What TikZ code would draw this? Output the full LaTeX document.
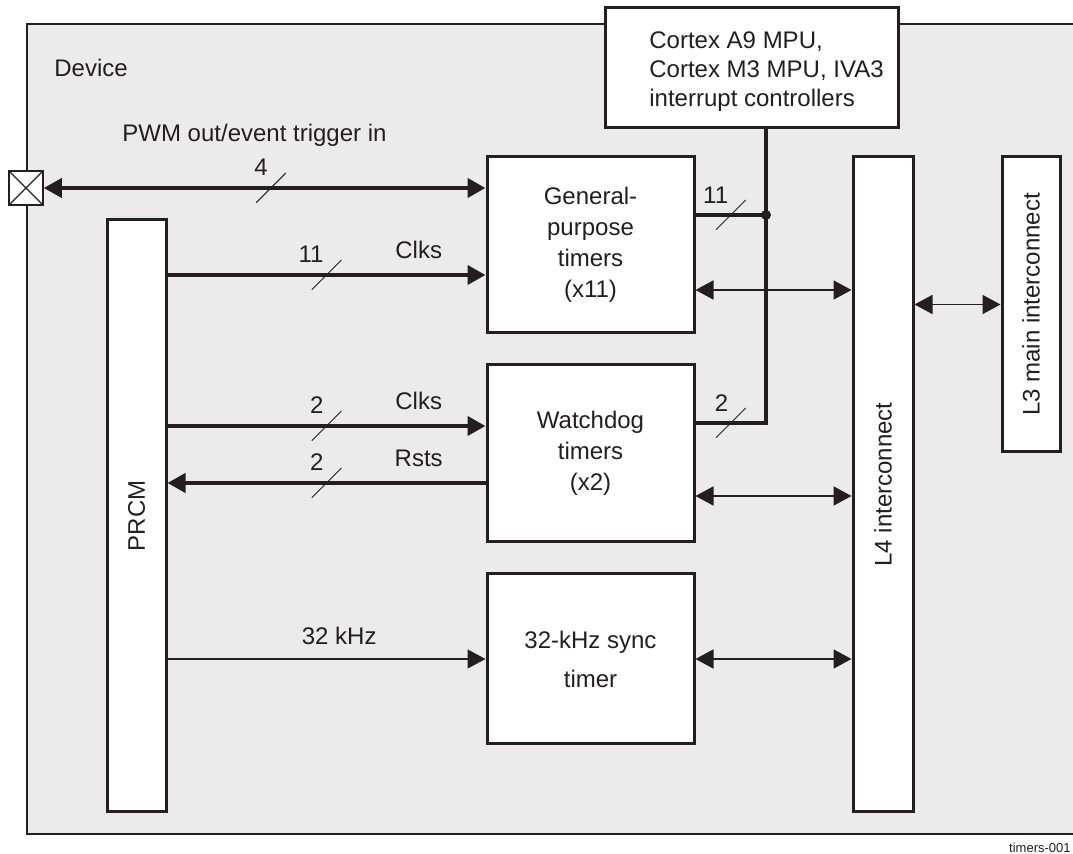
\documentclass[tikz,border=0pt]{standalone}
\usepackage{fontspec}
\setmainfont{Liberation Sans}
\usetikzlibrary{arrows.meta, positioning, calc}

\definecolor{devfill}{HTML}{EBEBEB}
\definecolor{inkdark}{HTML}{231F20}

\begin{document}
\begin{tikzpicture}[
    x=0.5pt, y=-0.5pt,
    font=\fontsize{12}{15.5}\selectfont,
    text=inkdark,
    >={Triangle[length=9pt, width=9.5pt]},
    blk/.style={rectangle, draw=inkdark, line width=1.5pt, fill=white, align=center, inner sep=0pt, minimum width=103.5pt},
    bar/.style={rectangle, draw=inkdark, line width=1.5pt, fill=white, inner sep=0pt, minimum width=30pt},
    pinbox/.style={rectangle, draw=inkdark, line width=0.8pt, fill=white, minimum size=17pt, inner sep=0pt,
        path picture={\draw[-, line width=0.6pt] (path picture bounding box.south west) -- (path picture bounding box.north east)
                                      (path picture bounding box.north west) -- (path picture bounding box.south east);}},
    bus/.style={draw=inkdark, line width=2pt},
    wire/.style={draw=inkdark, line width=0.9pt},
    fine/.style={draw=inkdark, line width=0.6pt},
    irqline/.style={draw=inkdark, line width=1.6pt},
    slashmark/.style={minimum size=15pt, inner sep=0pt,
        path picture={\draw[-, line width=0.5pt] (path picture bounding box.south west) -- (path picture bounding box.north east);}},
    num/.style={anchor=south east, inner sep=0.5pt, yshift=-4pt},
    lbl/.style={inner sep=1pt}
]
\useasboundingbox (0,0) rectangle (1073,854);

% Device
\draw[line width=1.2pt, draw=inkdark, fill=devfill] (27,24) rectangle (1120,834);
\node[anchor=west, inner sep=0pt] (devlbl) at (54,68) {Device};
\node[pinbox] (pin) at (26,188) {};

% Blocks
\node[blk, minimum width=146.5pt, minimum height=60pt] (intc) at (751.5,68) {};
\node[anchor=west, align=left, inner sep=0pt, font=\fontsize{12}{14.5}\selectfont] (intclbl) at (649,72)
    {Cortex A9 MPU,\\Cortex M3 MPU, IVA3\\interrupt controllers};
\node[blk, minimum height=88pt] (gpt) at (590.5,245) {General-\\purpose\\timers\\(x11)};
\node[blk, minimum height=88.5pt, below=14.5pt of gpt] (wdt) {Watchdog\\timers\\(x2)};
\node[blk, minimum height=85pt, below=14.5pt of wdt] (synct) {32-kHz sync\\[4pt]timer};
\node[bar, minimum width=29.5pt, minimum height=296pt] (prcm) at (136.5,516) {\rotatebox{90}{PRCM}};
\node[bar, minimum height=327.5pt] (l4) at (883,484.5) {\rotatebox{90}{L4 interconnect}};
\node[bar, minimum width=29pt, minimum height=147.5pt] (l3) at (1031,304.5) {\rotatebox{90}{L3 main interconnect}};

% Anchor points on the block sides
\coordinate (gclk) at ([yshift=-15pt]gpt.west);
\coordinate (wclk) at ([yshift=13.75pt]wdt.west);
\coordinate (wrst) at ([yshift=-14.75pt]wdt.west);
\coordinate (gbus) at ([yshift=-22.5pt]gpt.east);
\coordinate (wbus) at ([yshift=-21.25pt]wdt.east);
\coordinate (gint) at ([yshift=15pt]gpt.east);
\coordinate (wint) at ([yshift=15.25pt]wdt.east);
\coordinate (irq) at ([xshift=7.25pt]intc.south);

% PRCM side
\draw[bus, <->] (pin.east) -- node[slashmark, pos=.514, label={[num]north:4}] {}
    node[lbl, pos=.477, above=19pt] {PWM out/event trigger in} (pin.east -| gpt.west);
\draw[bus, ->] (prcm.east |- gclk) -- node[slashmark, label={[num]north:11}] {}
    node[lbl, pos=.79, above=6pt] {Clks} (gclk);
\draw[bus, ->] (prcm.east |- wclk) -- node[slashmark, label={[num]north:2}] {}
    node[lbl, pos=.79, above=6pt] {Clks} (wclk);
\draw[bus, <-] (prcm.east |- wrst) -- node[slashmark, label={[num]north:2}] {}
    node[lbl, pos=.79, above=6pt] {Rsts} (wrst);
\draw[fine, ->] (prcm.east |- synct.west) -- node[lbl, pos=.54, above=6pt] {32 kHz} (synct.west);

% Interrupt lines
\draw[irqline] (irq) -- (irq |- wint) -- node[slashmark, label={[num]north:2}] {} (wint);
\draw[irqline] (gint) -- node[slashmark, label={[num]north:11}] {} (irq |- gint);
\fill[inkdark] (irq |- gint) circle (2.5pt);

% Interconnect
\draw[wire, <->] (gbus) -- (gbus -| l4.west);
\draw[wire, <->] (wbus) -- (wbus -| l4.west);
\draw[wire, <->] (synct.east) -- (synct.east -| l4.west);
\draw[wire, <->] (l3.west -| l4.east) -- (l3.west);

\node[anchor=east, inner sep=0pt, font=\fontsize{6.5}{7}\selectfont] (tag) at (1071,848) {timers-001};
\end{tikzpicture}
\end{document}
